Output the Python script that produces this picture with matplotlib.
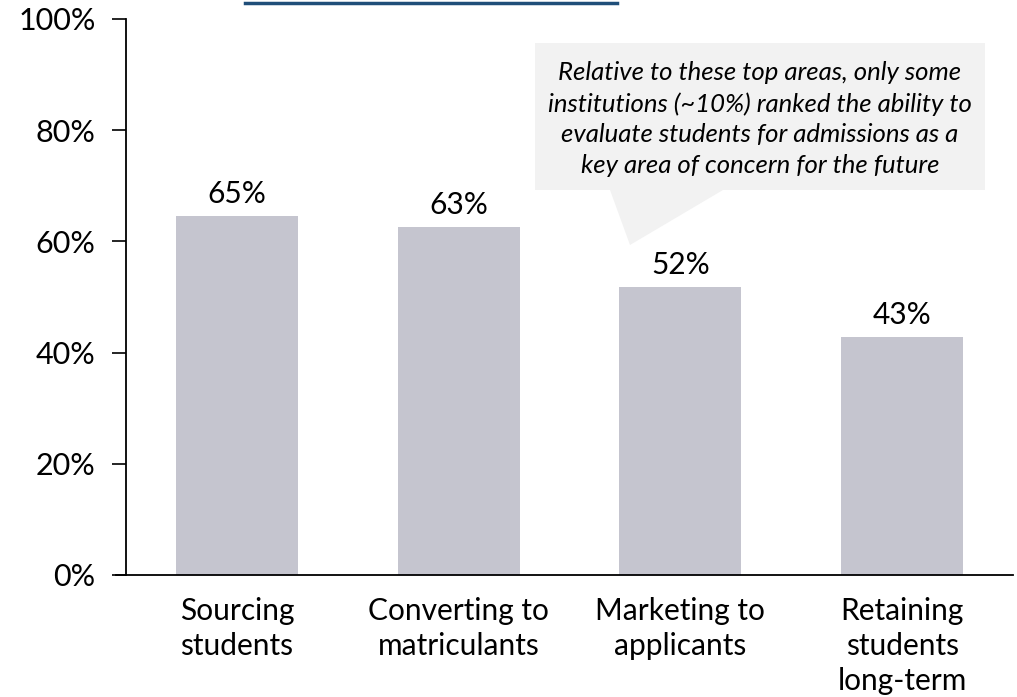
import matplotlib.pyplot as plt
from matplotlib.patches import Polygon
from matplotlib.lines import Line2D

categories = ['Sourcing\nstudents', 'Converting to\nmatriculants', 'Marketing to\napplicants',
              'Retaining\nstudents\nlong-term']
values = [64.5, 62.5, 51.8, 42.8]
value_labels = ['65%', '63%', '52%', '43%']
yticks = [0, 20, 40, 60, 80, 100]
callout = ('Relative to these top areas, only some\n'
           'institutions (~10%) ranked the ability to\n'
           'evaluate students for admissions as a\n'
           'key area of concern for the future')

bar_color = '#C5C5CF'
box_color = '#F2F2F2'
title_color = '#1F4E79'
W, H = 1017, 697

plt.rcParams['font.family'] = ['Lato', 'DejaVu Sans']

fig = plt.figure(figsize=(W / 100, H / 100), dpi=100)
ax = fig.add_axes([126 / W, 1 - 575 / H, (1013 - 126) / W, (575 - 19) / H])

x = range(len(categories))
ax.bar(x, values, width=0.55, color=bar_color)
for i, (v, lab) in enumerate(zip(values, value_labels)):
    ax.text(i, v + 1.5, lab, ha='center', va='bottom', fontsize=21.5)

ax.set_xlim(-0.5, len(categories) - 0.5)
ax.set_ylim(0, 100)
ax.set_yticks(yticks)
ax.set_yticklabels([f'{t}%' for t in yticks], fontsize=22)
ax.set_xticks(list(x))
ax.set_xticklabels(categories, fontsize=21.5, linespacing=1.3)
ax.tick_params(axis='x', length=0, pad=16)
ax.tick_params(axis='y', length=10, width=1.2, direction='out', pad=12)
for s in ['top', 'right']:
    ax.spines[s].set_visible(False)
for s in ['left', 'bottom']:
    ax.spines[s].set_linewidth(1.3)
ax.spines['bottom'].set_bounds(-0.5 - 10 / 222, len(categories) - 0.5)


def px(xp, yp):
    return (xp / W, 1 - yp / H)


# callout box with pointer
pts = [px(535, 43), px(985, 43), px(985, 190), px(723, 190), px(630, 245),
       px(610, 190), px(535, 190)]
fig.patches.append(Polygon(pts, closed=True, transform=fig.transFigure,
                           facecolor=box_color, edgecolor='none', zorder=0))
fig.text(*px(760, 119), callout, ha='center', va='center', fontsize=18.5,
         style='italic', linespacing=1.4)

# cut-off title underline
fig.add_artist(Line2D([245 / W, 617 / W], [1 - 3 / H, 1 - 3 / H], color=title_color,
                      linewidth=2.5, transform=fig.transFigure))

fig.savefig('out.png', dpi=100)
